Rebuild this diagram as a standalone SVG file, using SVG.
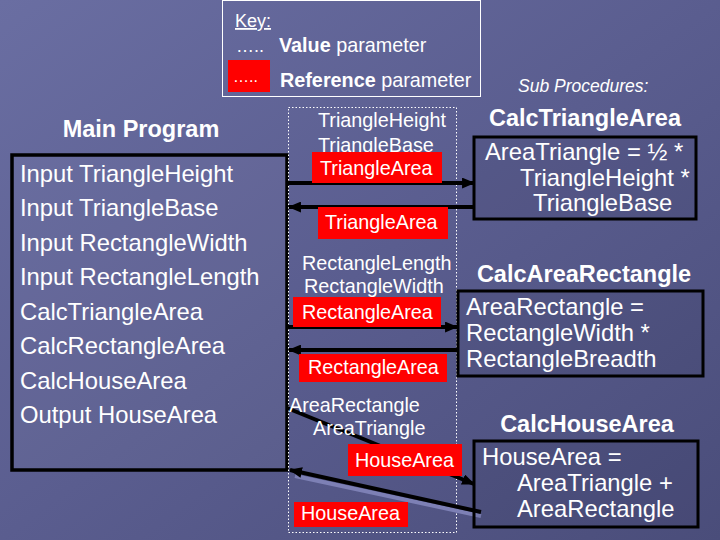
<svg xmlns="http://www.w3.org/2000/svg" width="720" height="540" viewBox="0 0 720 540">
<defs>
<linearGradient id="bg" x1="0" y1="0" x2="1" y2="1">
<stop offset="0" stop-color="#6a6ea2"/>
<stop offset="0.5" stop-color="#5a5d8f"/>
<stop offset="1" stop-color="#4a4d7a"/>
</linearGradient>
<marker id="ah" viewBox="0 0 12 10" refX="11" refY="5" markerWidth="13" markerHeight="11" markerUnits="userSpaceOnUse" orient="auto">
<path d="M0,0 L12,5 L0,10 Z" fill="#000"/>
</marker>
<style>
text{font-family:"Liberation Sans",Arial,sans-serif;fill:#fff}
.main{font-size:23.8px}
.mid{font-size:19.8px}
.title{font-size:23.5px;font-weight:bold;text-anchor:middle}
.body{font-size:23.8px}
.box{fill:rgba(20,20,50,0.08);stroke:#000;stroke-width:3}
.red{fill:#ff0000}
.conn{stroke:#000;stroke-width:4;fill:none;marker-end:url(#ah)}
</style>
</defs>
<rect width="720" height="540" fill="url(#bg)"/>

<g id="key">
<rect x="222.5" y="0.5" width="258" height="96" fill="none" stroke="#fff" stroke-width="1"/>
<text x="235" y="27" font-size="18" text-decoration="underline">Key:</text>
<text x="236" y="52" font-size="18">…..</text>
<text x="279" y="52" font-size="19.8"><tspan font-weight="bold">Value</tspan> parameter</text>
<rect x="228" y="60" width="42" height="32" class="red"/>
<text x="233" y="82" font-size="16">…..</text>
<text x="280" y="87" font-size="19.8"><tspan font-weight="bold">Reference</tspan> parameter</text>
</g>

<text x="518" y="92" font-size="17.5" font-style="italic">Sub Procedures:</text>

<g id="main">
<text x="141" y="137" class="title">Main Program</text>
<rect x="12" y="155" width="275" height="315" fill="rgba(255,255,255,0.03)" stroke="#000" stroke-width="3.5"/>
<text x="20" y="182" class="main">Input TriangleHeight</text>
<text x="20" y="216" class="main">Input TriangleBase</text>
<text x="20" y="251" class="main">Input RectangleWidth</text>
<text x="20" y="285" class="main">Input RectangleLength</text>
<text x="20" y="320" class="main">CalcTriangleArea</text>
<text x="20" y="354" class="main">CalcRectangleArea</text>
<text x="20" y="389" class="main">CalcHouseArea</text>
<text x="20" y="423" class="main">Output HouseArea</text>
</g>

<g id="params">
<rect x="288.5" y="107.5" width="168" height="425" fill="none" stroke="#fff" stroke-width="1" stroke-dasharray="1.5,2"/>
</g>

<g id="connectors">
<line x1="287" y1="183" x2="474" y2="183" class="conn"/>
<line x1="474" y1="207" x2="289" y2="207" class="conn"/>
<line x1="287" y1="327" x2="457" y2="327" class="conn"/>
<line x1="457" y1="350" x2="289" y2="350" class="conn"/>
<line x1="287" y1="408" x2="474" y2="484" class="conn"/>
<line x1="481" y1="516" x2="295" y2="476" stroke="#7d80b5" stroke-width="4"/>
<line x1="481" y1="512" x2="290" y2="470" class="conn"/>
</g>

<g id="param-labels">
<text x="318" y="127" class="mid">TriangleHeight</text>
<text x="318" y="152" class="mid">TriangleBase</text>
<rect x="312" y="152" width="130" height="31" class="red"/>
<text x="320" y="175" class="mid">TriangleArea</text>
<rect x="318" y="207" width="130" height="32" class="red"/>
<text x="325" y="229" class="mid">TriangleArea</text>
<text x="302" y="270" class="mid">RectangleLength</text>
<text x="304" y="293" class="mid">RectangleWidth</text>
<rect x="293" y="297" width="148" height="30" class="red"/>
<text x="302" y="319" class="mid">RectangleArea</text>
<rect x="299" y="354" width="148" height="28" class="red"/>
<text x="308" y="374" class="mid">RectangleArea</text>
<text x="289" y="412" class="mid">AreaRectangle</text>
<text x="313" y="435" class="mid">AreaTriangle</text>
<rect x="348" y="444" width="114" height="32" class="red"/>
<text x="355" y="467" class="mid">HouseArea</text>
<rect x="294" y="502" width="114" height="25" class="red"/>
<text x="301" y="520" class="mid">HouseArea</text>
</g>

<g id="calcTriangle">
<text x="585" y="126" class="title">CalcTriangleArea</text>
<rect x="474" y="137" width="222" height="82" class="box"/>
<text x="485" y="160" class="body">AreaTriangle = ½ *</text>
<text x="520" y="186" class="body">TriangleHeight *</text>
<text x="533" y="211" class="body">TriangleBase</text>
</g>

<g id="calcRectangle">
<text x="584" y="282" class="title">CalcAreaRectangle</text>
<rect x="458" y="291" width="245" height="85" class="box"/>
<text x="466" y="315" class="body">AreaRectangle =</text>
<text x="466" y="341" class="body">RectangleWidth *</text>
<text x="466" y="367" class="body">RectangleBreadth</text>
</g>

<g id="calcHouse">
<text x="587" y="432" class="title">CalcHouseArea</text>
<rect x="474" y="441" width="224" height="86" class="box"/>
<text x="482" y="465" class="body">HouseArea =</text>
<text x="517" y="491" class="body">AreaTriangle +</text>
<text x="517" y="517" class="body">AreaRectangle</text>
</g>
</svg>
